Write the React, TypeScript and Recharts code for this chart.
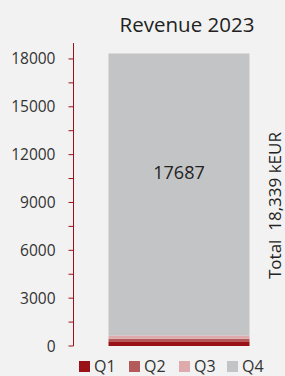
import { BarChart, Bar, XAxis, YAxis, LabelList } from "recharts";

const categories = ["2023"];
const seriesNames = ["Q1", "Q2", "Q3", "Q4"];
const q1 = [248];
const q2 = [214];
const q3 = [190];
const q4 = [17687];
const yTicks = [0, 1500, 3000, 4500, 6000, 7500, 9000, 10500, 12000, 13500, 15000, 16500, 18000];
const colors = ["#9a1218", "#b55a5b", "#dfaaab", "#c3c4c6"];

const data = categories.map((c, i) => ({
  name: c,
  Q1: q1[i],
  Q2: q2[i],
  Q3: q3[i],
  Q4: q4[i],
}));

const total = q1[0] + q2[0] + q3[0] + q4[0];
const font = "'Open Sans', sans-serif";
const axisRed = "#9a1218";

function tickLabel(v: number) {
  return v % 3000 === 0 ? String(v) : "";
}

// legend item slot widths, so the boxes line up like the original
const slotWidths = [50, 50, 48, 46];

function LegendBox() {
  return (
    <div style={{ display: "flex", fontFamily: font, fontSize: 16, lineHeight: "16px", color: "#333" }}>
      {seriesNames.map((s, i) => (
        <div key={s} style={{ display: "flex", alignItems: "center", width: slotWidths[i] }}>
          <span style={{ width: 11, height: 11, background: colors[i], display: "inline-block", marginRight: 4 }} />
          <span>{s}</span>
        </div>
      ))}
    </div>
  );
}

export default function App() {
  return (
    <div style={{ position: "fixed", left: 0, top: 0, width: 285, height: 376, background: "#f2f2f2", fontFamily: font, overflow: "hidden" }}>
      <div style={{ position: "absolute", left: 0, width: 374, top: 10, textAlign: "center", fontSize: 20.5, lineHeight: "28px", color: "#222" }}>
        Revenue 2023
      </div>
      <BarChart width={285} height={376} data={data} margin={{ top: 43, right: 0, bottom: 30, left: 0 }}>
        <XAxis dataKey="name" hide />
        <YAxis
          domain={[0, 19000]}
          ticks={yTicks}
          tickFormatter={tickLabel}
          width={73.5}
          tickSize={5}
          tickMargin={13}
          interval={0}
          stroke={axisRed}
          tick={{ fill: "#333", fontSize: 15.5, fontFamily: font }}
        />
        <Bar dataKey="Q1" stackId="a" fill={colors[0]} barSize={141} isAnimationActive={false} />
        <Bar dataKey="Q2" stackId="a" fill={colors[1]} barSize={141} isAnimationActive={false} />
        <Bar dataKey="Q3" stackId="a" fill={colors[2]} barSize={141} isAnimationActive={false} />
        <Bar dataKey="Q4" stackId="a" fill={colors[3]} barSize={141} isAnimationActive={false}>
          <LabelList dataKey="Q4" position="insideTop" offset={113} fill="#222" fontSize={18} fontFamily={font} />
        </Bar>
      </BarChart>
      <div style={{ position: "absolute", left: 264, top: 116, width: 21, height: 180 }}>
        <div
          style={{
            width: 21,
            height: 180,
            transform: "rotate(180deg)",
            writingMode: "vertical-rl",
            whiteSpace: "pre",
            textAlign: "center",
            fontSize: 17,
            lineHeight: "21px",
            color: "#222",
          }}
        >
          {"Total  " + total.toLocaleString("en-US") + " kEUR"}
        </div>
      </div>
      <div style={{ position: "absolute", left: 79, top: 358 }}>
        <LegendBox />
      </div>
    </div>
  );
}
